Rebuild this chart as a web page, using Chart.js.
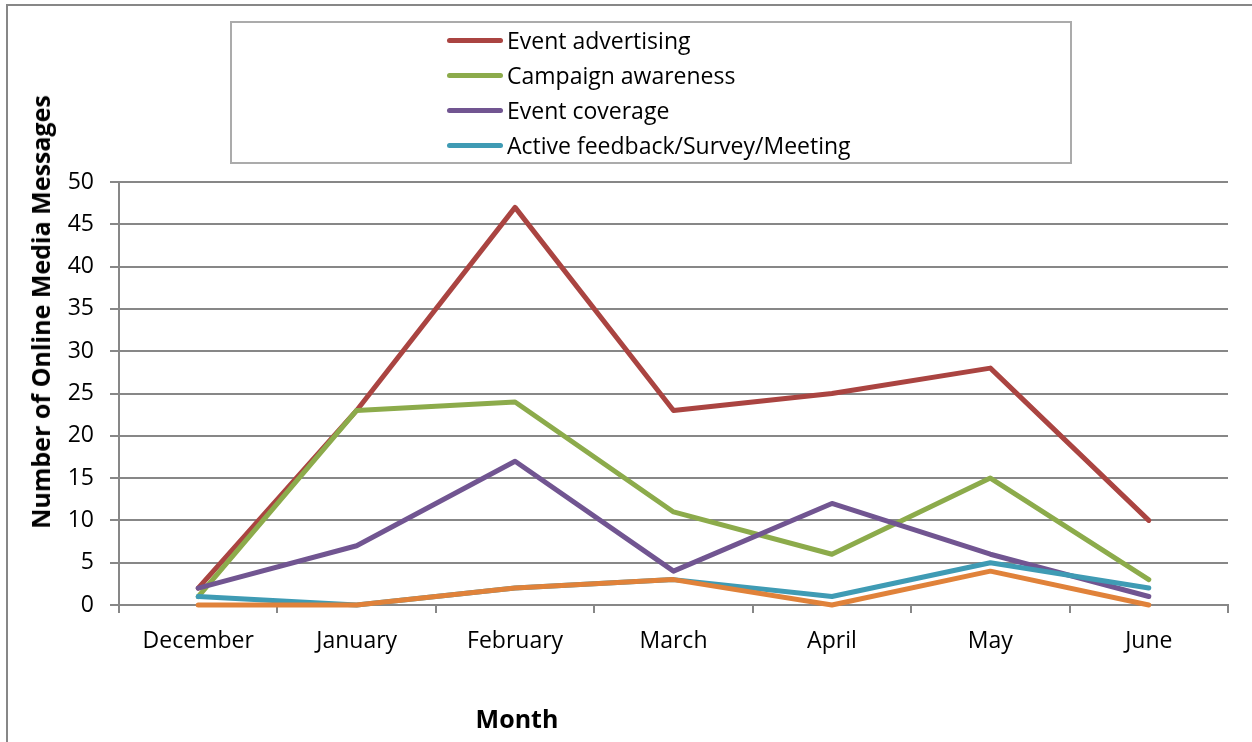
<!DOCTYPE html>
<html>
<head>
<meta charset="utf-8">
<script src="https://cdn.jsdelivr.net/npm/chart.js@4.4.1/dist/chart.umd.min.js"></script>
<style>
    body { margin: 0; background: #fff; font-family: 'Open Sans', sans-serif; }
    #wrap { position: relative; width: 1252px; height: 742px; overflow: hidden; }
    #frame { position: absolute; left: 6px; top: 4px; width: 1400px; height: 900px; border: 2px solid #878787; }
    #mainChart { position: absolute; left: 0; top: 0; }
    #legendBox { position: absolute; left: 230px; top: 21px; width: 838px; height: 139px; border: 2px solid #ababab; }
    .legend-row { position: absolute; left: 215px; height: 30px; display: flex; align-items: center; font-size: 23px; color: #000; white-space: nowrap; }
    .legend-line { width: 56px; height: 5px; border-radius: 3px; margin-right: 4px; }
    .axis-title { position: absolute; font-weight: bold; font-size: 25px; color: #000; white-space: nowrap; }
    #yTitle { left: 40px; top: 312px; transform: translate(-50%, -50%) rotate(-90deg); }
    #xTitle { left: 517px; top: 718px; transform: translate(-50%, -50%); }
</style>
</head>
<body>
<div id="wrap">
    <div id="frame"></div>
    <canvas id="mainChart" width="1252" height="742"></canvas>
    <div id="legendBox"></div>
    <div class="axis-title" id="yTitle">Number of Online Media Messages</div>
    <div class="axis-title" id="xTitle">Month</div>
</div>
<script>
// Datos
const months = ['December', 'January', 'February', 'March', 'April', 'May', 'June'];
const eventAdvertising  = [2, 23, 47, 23, 25, 28, 10];
const campaignAwareness = [1, 23, 24, 11, 6, 15, 3];
const eventCoverage     = [2, 7, 17, 4, 12, 6, 1];
const activeFeedback    = [1, 0, 2, 3, 1, 5, 2];
const unlabeledSeries   = [0, 0, 2, 3, 0, 4, 0];   // serie sin leyenda (naranja)
const yMin = 0, yMax = 50, yStep = 5;

const GRID = '#878787';
const FONT = "'Open Sans', sans-serif";

function makeSeries(label, data, color, order) {
    return {
        label: label,
        data: data,
        borderColor: color,
        backgroundColor: color,
        borderWidth: 5,
        pointRadius: 0,
        tension: 0,
        borderJoinStyle: 'round',
        borderCapStyle: 'round',
        clip: false,
        order: order
    };
}

const datasets = [
    makeSeries('Event advertising', eventAdvertising, '#aa4441', 5),
    makeSeries('Campaign awareness', campaignAwareness, '#8cab4b', 4),
    makeSeries('Event coverage', eventCoverage, '#715591', 3),
    makeSeries('Active feedback/Survey/Meeting', activeFeedback, '#3f9bb4', 2),
    makeSeries('', unlabeledSeries, '#e0823a', 1)
];

function renderLegend() {
    const box = document.getElementById('legendBox');
    datasets.filter(ds => ds.label).forEach((ds, i) => {
        const row = document.createElement('div');
        row.className = 'legend-row';
        row.style.top = (2 + i * 35) + 'px';
        const line = document.createElement('span');
        line.className = 'legend-line';
        line.style.background = ds.borderColor;
        const txt = document.createElement('span');
        txt.textContent = ds.label;
        row.appendChild(line);
        row.appendChild(txt);
        box.appendChild(row);
    });
}

function renderChart() {
    const ctx = document.getElementById('mainChart').getContext('2d');
    new Chart(ctx, {
        type: 'line',
        data: { labels: months, datasets: datasets },
        options: {
            responsive: false,
            animation: false,
            layout: { padding: { top: 182, right: 24, left: 0, bottom: 0 } },
            plugins: {
                legend: { display: false },
                tooltip: { enabled: false }
            },
            scales: {
                x: {
                    type: 'category',
                    offset: true,
                    afterFit: scale => { scale.height = 137; },
                    grid: {
                        offset: true,
                        drawOnChartArea: false,
                        drawTicks: true,
                        tickLength: 8,
                        color: GRID,
                        lineWidth: 2
                    },
                    border: { display: true, color: GRID, width: 2 },
                    ticks: {
                        color: '#000',
                        padding: 15,
                        maxRotation: 0,
                        autoSkip: false,
                        font: { family: FONT, size: 23 }
                    }
                },
                y: {
                    min: yMin,
                    max: yMax,
                    afterFit: scale => { scale.width = 119; },
                    grid: {
                        color: GRID,
                        lineWidth: 2,
                        drawTicks: true,
                        tickLength: 9
                    },
                    border: { display: true, color: GRID, width: 2 },
                    ticks: {
                        stepSize: yStep,
                        color: '#000',
                        padding: 16,
                        font: { family: FONT, size: 23 }
                    }
                }
            }
        }
    });
}

document.addEventListener('DOMContentLoaded', () => {
    renderLegend();
    renderChart();
});
</script>
</body>
</html>
